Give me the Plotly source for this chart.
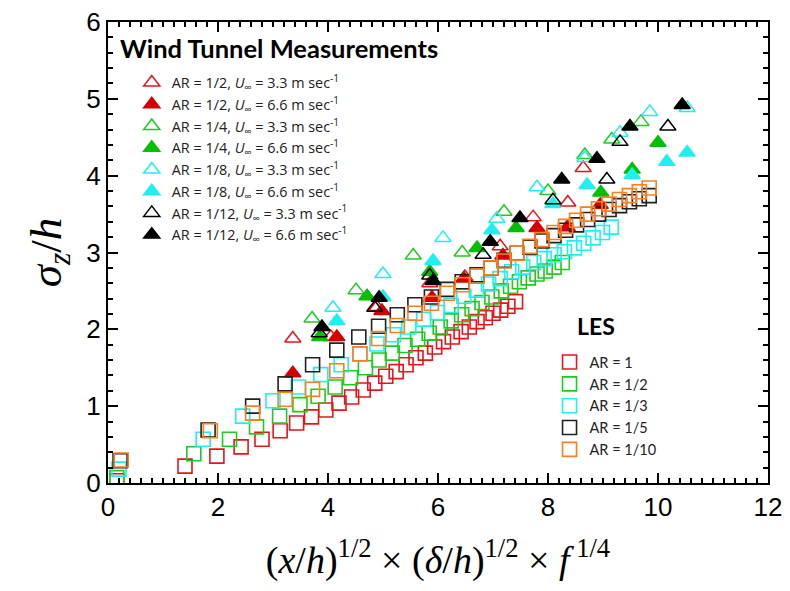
import plotly.graph_objects as go

# ---------------- Wind tunnel measurements (triangles) ----------------
wt_r33_x = [3.36, 4.05, 4.89, 5.85, 6.49, 7.13, 7.73, 8.36, 8.64]
wt_r33_y = [1.88, 1.90, 2.29, 2.60, 2.68, 3.08, 3.46, 3.65, 4.10]
wt_r66_x = [3.36, 4.16, 4.98, 5.89, 6.47, 7.18, 7.80, 8.35, 8.95]
wt_r66_y = [1.43, 1.90, 2.24, 2.41, 2.66, 2.96, 3.32, 3.33, 3.62]
wt_g33_x = [3.71, 4.51, 5.55, 6.44, 7.20, 8.00, 8.67, 9.16, 9.69]
wt_g33_y = [2.14, 2.51, 2.96, 3.00, 3.53, 3.80, 4.27, 4.47, 4.70]
wt_g66_x = [3.85, 4.71, 5.85, 6.71, 7.42, 8.96, 9.53, 10.00]
wt_g66_y = [1.90, 2.43, 2.75, 3.06, 3.32, 3.78, 4.08, 4.43]
wt_c33_x = [4.09, 5.00, 6.09, 7.07, 7.80, 8.67, 9.31, 9.85, 10.53]
wt_c33_y = [2.28, 2.72, 3.19, 3.44, 3.85, 4.23, 4.56, 4.83, 4.88]
wt_c66_x = [4.16, 5.00, 5.91, 6.98, 8.09, 8.71, 9.53, 10.16, 10.53]
wt_c66_y = [2.11, 2.42, 2.89, 3.29, 3.63, 3.88, 4.01, 4.18, 4.30]
wt_k33_x = [3.84, 4.85, 5.85, 6.82, 8.09, 9.07, 9.31, 10.18]
wt_k33_y = [1.95, 2.28, 2.70, 2.97, 3.68, 3.95, 4.44, 4.64]
wt_k66_x = [3.89, 4.93, 5.91, 6.95, 7.49, 8.25, 8.89, 9.49, 10.44]
wt_k66_y = [2.03, 2.41, 2.63, 3.14, 3.45, 3.95, 4.22, 4.64, 4.92]

# ---------------- LES (squares) ----------------
les1_x = [0.16, 1.40, 1.98, 2.42, 2.80, 3.13, 3.43, 3.70, 3.96, 4.20, 4.43, 4.64, 4.85, 5.05, 5.24,
          5.42, 5.60, 5.77, 5.94, 6.10, 6.26, 6.42, 6.57, 6.71, 6.86, 7.00, 7.14, 7.27, 7.41]
les1_y = [0.03, 0.22, 0.35, 0.47, 0.57, 0.68, 0.78, 0.86, 0.95, 1.04, 1.12, 1.21, 1.30, 1.39, 1.45,
          1.54, 1.63, 1.69, 1.77, 1.84, 1.90, 1.97, 2.03, 2.10, 2.15, 2.21, 2.25, 2.30, 2.36]
les2_x = [0.16, 1.56, 2.21, 2.70, 3.12, 3.49, 3.82, 4.13, 4.41, 4.68, 4.93, 5.17, 5.40, 5.63, 5.84,
          6.04, 6.24, 6.43, 6.62, 6.80, 6.98, 7.15, 7.32, 7.48, 7.64, 7.80, 7.95, 8.11, 8.26]
les2_y = [0.07, 0.38, 0.57, 0.73, 0.87, 1.02, 1.13, 1.25, 1.37, 1.50, 1.60, 1.69, 1.79, 1.87, 1.95,
          2.03, 2.11, 2.19, 2.27, 2.35, 2.42, 2.50, 2.56, 2.62, 2.67, 2.72, 2.76, 2.81, 2.87]
les3_x = [0.20, 1.73, 2.45, 3.00, 3.46, 3.87, 4.24, 4.58, 4.89, 5.19, 5.47, 5.74, 5.99, 6.24, 6.47,
          6.70, 6.92, 7.13, 7.34, 7.54, 7.74, 7.93, 8.11, 8.30, 8.48, 8.65, 8.82, 8.99, 9.15]
les3_y = [0.18, 0.57, 0.87, 1.07, 1.25, 1.41, 1.54, 1.68, 1.81, 1.93, 2.03, 2.13, 2.22, 2.31, 2.43,
          2.51, 2.59, 2.66, 2.75, 2.81, 2.87, 2.92, 2.97, 3.01, 3.06, 3.12, 3.19, 3.26, 3.33]
les5_x = [0.22, 1.82, 2.63, 3.22, 3.72, 4.16, 4.56, 4.92, 5.26, 5.58, 5.88, 6.17, 6.44, 6.71, 6.96,
          7.20, 7.44, 7.67, 7.89, 8.11, 8.32, 8.52, 8.72, 8.92, 9.11, 9.30, 9.48, 9.66, 9.84]
les5_y = [0.29, 0.69, 1.00, 1.29, 1.54, 1.73, 1.90, 2.04, 2.19, 2.32, 2.42, 2.52, 2.62, 2.71, 2.80,
          2.90, 2.99, 3.07, 3.15, 3.22, 3.29, 3.36, 3.43, 3.50, 3.56, 3.61, 3.66, 3.70, 3.74]
les10_x = [0.24, 1.86, 2.63, 3.22, 3.72, 4.16, 4.58, 4.92, 5.26, 5.58, 5.88, 6.17, 6.44, 6.71, 6.96,
           7.20, 7.44, 7.67, 7.89, 8.11, 8.32, 8.52, 8.72, 8.92, 9.11, 9.30, 9.48, 9.66, 9.84]
les10_y = [0.30, 0.68, 0.91, 1.09, 1.22, 1.46, 1.68, 1.88, 2.05, 2.21, 2.34, 2.47, 2.58, 2.69, 2.80,
           2.89, 2.99, 3.08, 3.17, 3.26, 3.34, 3.42, 3.50, 3.57, 3.63, 3.69, 3.74, 3.79, 3.84]

RED, RED_F = "#e8141c", "#d40000"
GREEN, GREEN_F = "#1ecb1e", "#00c000"
CYAN = "#1ef0f0"
BLACK = "#000000"
ORANGE = "#ff7f1e"

U = "<i>U</i><sub>∞</sub>"
wt_series = [
    (wt_r33_x, wt_r33_y, f"AR = 1/2, {U} = 3.3 m sec<sup>-1</sup>", RED, False),
    (wt_r66_x, wt_r66_y, f"AR = 1/2, {U} = 6.6 m sec<sup>-1</sup>", RED_F, True),
    (wt_g33_x, wt_g33_y, f"AR = 1/4, {U} = 3.3 m sec<sup>-1</sup>", GREEN, False),
    (wt_g66_x, wt_g66_y, f"AR = 1/4, {U} = 6.6 m sec<sup>-1</sup>", GREEN_F, True),
    (wt_c33_x, wt_c33_y, f"AR = 1/8, {U} = 3.3 m sec<sup>-1</sup>", CYAN, False),
    (wt_c66_x, wt_c66_y, f"AR = 1/8, {U} = 6.6 m sec<sup>-1</sup>", CYAN, True),
    (wt_k33_x, wt_k33_y, f"AR = 1/12, {U} = 3.3 m sec<sup>-1</sup>", BLACK, False),
    (wt_k66_x, wt_k66_y, f"AR = 1/12, {U} = 6.6 m sec<sup>-1</sup>", BLACK, True),
]
les_series = [
    (les1_x, les1_y, "AR = 1", RED),
    (les2_x, les2_y, "AR = 1/2", GREEN),
    (les3_x, les3_y, "AR = 1/3", CYAN),
    (les5_x, les5_y, "AR = 1/5", "#222222"),
    (les10_x, les10_y, "AR = 1/10", ORANGE),
]

fig = go.Figure()
for i, (xs, ys, name, col, filled) in enumerate(wt_series):
    fig.add_trace(go.Scatter(
        x=xs, y=ys, mode="markers", name=name, legend="legend", legendgroup=f"wt{i}",
        marker=dict(symbol="triangle-up" if filled else "triangle-up-open", size=14,
                    color=col, line=dict(color=col, width=1.5)),
    ))
for i, (xs, ys, name, col) in enumerate(les_series):
    fig.add_trace(go.Scatter(
        x=xs, y=ys, mode="markers", name=name, legend="legend2", legendgroup=f"les{i}",
        marker=dict(symbol="square-open", size=14, color=col, line=dict(color=col, width=1.6)),
    ))

axis_common = dict(
    showline=True, linecolor="black", linewidth=2, mirror="allticks",
    ticks="inside", ticklen=10, tickwidth=2, tickcolor="black",
    showgrid=False, zeroline=False, automargin=False, ticklabeloverflow="allow",
    tickfont=dict(family="Liberation Sans, Arial", size=26, color="black"),
)
fig.update_xaxes(range=[0, 12], dtick=2, tick0=0,
                 minor=dict(dtick=0.2, ticks="inside", ticklen=5, tickwidth=1.5, tickcolor="black"),
                 title=dict(text="(<i>x</i>/<i>h</i>)<sup>1/2</sup> × (<i>δ</i>/<i>h</i>)<sup>1/2</sup> × <i>f</i><sup> 1/4</sup>",
                            font=dict(family="Liberation Serif, Times New Roman", size=38, color="black"),
                            standoff=25),
                 **axis_common)
fig.update_yaxes(range=[0, 6], dtick=1, tick0=0,
                 minor=dict(dtick=0.2, ticks="inside", ticklen=5, tickwidth=1.5, tickcolor="black"),
                 title=dict(text="<i>σ<sub>z</sub></i>/<i>h</i>",
                            font=dict(family="Liberation Serif, Times New Roman", size=45, color="black"),
                            standoff=11),
                 **axis_common)

# the page body adds an 8 px offset, so the figure is 8 px smaller and margins shifted
fig.update_layout(
    width=782, height=583,
    margin=dict(l=100, r=22, t=14, b=108),
    plot_bgcolor="white", paper_bgcolor="white",
    legend=dict(x=0.036, y=0.903, xanchor="left", yanchor="top", bgcolor="rgba(0,0,0,0)",
                font=dict(family="Open Sans", size=14.4, color="#222222"),
                traceorder="grouped", tracegroupgap=0, itemsizing="trace"),
    legend2=dict(x=0.669, y=0.297, xanchor="left", yanchor="top", bgcolor="rgba(0,0,0,0)",
                 font=dict(family="Lato, Open Sans", size=14.5, color="#222222"),
                 traceorder="grouped", tracegroupgap=0, itemsizing="trace"),
    annotations=[
        dict(text="<b>Wind Tunnel Measurements</b>", xref="paper", yref="paper",
             x=(118 - 108) / 660, y=(483 - 48) / 461, xanchor="left", yanchor="middle",
             showarrow=False, font=dict(family="Lato, Open Sans", size=25.5, color="black")),
        dict(text="<b>LES</b>", xref="paper", yref="paper",
             x=(596 - 108) / 660, y=(483 - 326) / 461, xanchor="center", yanchor="middle",
             showarrow=False, font=dict(family="Lato, Open Sans", size=23, color="black")),
    ],
)

fig.write_html("out.html")
